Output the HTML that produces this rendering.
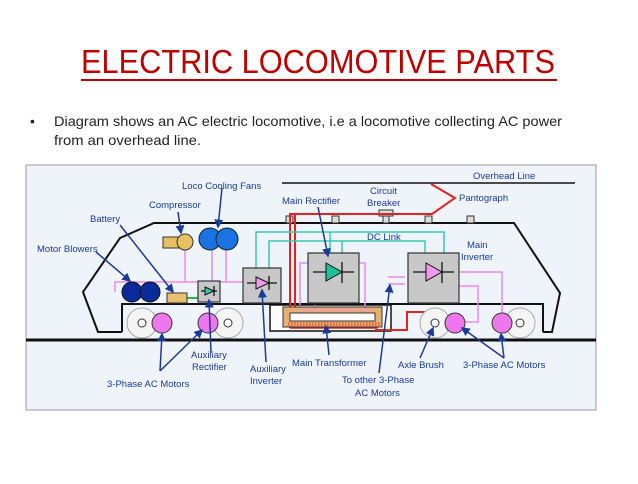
<!DOCTYPE html>
<html><head><meta charset="utf-8"><style>
body{margin:0;background:#fff;width:638px;height:479px;overflow:hidden;font-family:"Liberation Sans",sans-serif}
</style></head><body>
<svg width="638" height="479" viewBox="0 0 638 479" xmlns="http://www.w3.org/2000/svg" font-family="Liberation Sans, sans-serif">
<text x="318" y="73" text-anchor="middle" font-size="33" fill="#c00000" textLength="474" lengthAdjust="spacingAndGlyphs">ELECTRIC LOCOMOTIVE PARTS</text>
<rect x="81" y="79" width="476" height="2" fill="#c00000"/>
<text x="30" y="126" font-size="14" fill="#222">•</text>
<text x="54" y="126" font-size="14" fill="#222" textLength="508" lengthAdjust="spacingAndGlyphs">Diagram shows an AC electric locomotive, i.e a locomotive collecting AC power</text>
<text x="54" y="145" font-size="14" fill="#222" textLength="147" lengthAdjust="spacingAndGlyphs">from an overhead line.</text>

<rect x="26" y="165" width="570" height="245" fill="#eef4fa" stroke="#999" stroke-width="1"/>
<!-- overhead line -->
<line x1="282" y1="183" x2="575" y2="183" stroke="#111" stroke-width="1.5"/>
<!-- body -->
<polyline points="122,332 98,332 83,292 120,238 154,223 514,223 560,293 552,332 543,332" fill="none" stroke="#111" stroke-width="2"/>
<path d="M122,332 V304 H543 V332" fill="none" stroke="#111" stroke-width="2"/>
<rect x="270" y="305" width="121" height="26" fill="#fff" stroke="#111" stroke-width="1.5"/>
<line x1="26" y1="340" x2="596" y2="340" stroke="#111" stroke-width="3"/>
<!-- insulators -->
<g fill="#ddd" stroke="#333" stroke-width="1"><rect x="286" y="216" width="7" height="7"/><rect x="332" y="216" width="7" height="7"/><rect x="425" y="216" width="7" height="7"/><rect x="467" y="216" width="7" height="7"/><rect x="379" y="210" width="14" height="6"/><rect x="383" y="216" width="6" height="7"/></g>
<!-- red power -->
<g fill="none" stroke="#e52222" stroke-width="2">
<polyline points="431,184 455,198 432,214 290,214 290,328"/>
<polyline points="295,214 295,328"/>
<polyline points="375,330 407,330 407,312 437,312 437,321"/>
</g>
<g stroke="#e52222" stroke-width="1.5"><line x1="290" y1="328" x2="378" y2="328"/></g>
<!-- teal dc link -->
<g fill="none" stroke="#33ccb0" stroke-width="1.5">
<polyline points="256,268 256,232 444,232 444,253"/>
<polyline points="269,268 269,241 425,241 425,253"/>
<line x1="330" y1="232" x2="330" y2="253"/><line x1="342" y1="241" x2="342" y2="253"/>
</g>
<!-- pink aux lines -->
<g fill="none" stroke="#ee88ee" stroke-width="1.5">
<polyline points="115,292 115,282 243,282"/><line x1="127" y1="282" x2="127" y2="290"/><line x1="145" y1="282" x2="145" y2="290"/>
<line x1="185" y1="250" x2="185" y2="282"/><line x1="212" y1="250" x2="212" y2="282"/><line x1="226" y1="250" x2="226" y2="282"/><line x1="209" y1="282" x2="209" y2="288"/>
<polyline points="300,305 300,263 308,263"/><polyline points="359,263 365,263 365,310"/>
<line x1="315" y1="305" x2="315" y2="322"/>
<line x1="388" y1="277" x2="405" y2="277"/><line x1="388" y1="284" x2="405" y2="284"/>
<polyline points="459,272 502,272 502,315"/><polyline points="459,286 478,286 478,322 462,322"/>
</g>
<g stroke="#ee88ee" stroke-width="1"><line x1="300" y1="310" x2="372" y2="310"/></g>
<line x1="187" y1="298" x2="198" y2="298" stroke="#22bb44" stroke-width="2"/>
<!-- transformer -->
<rect x="283" y="307" width="99" height="20" fill="#e8b070" stroke="#333" stroke-width="1"/>
<rect x="290" y="313" width="85" height="8" fill="#fff" stroke="#333" stroke-width="1"/>
<g stroke="#e52222" stroke-width="1" stroke-dasharray="1.5,1.5"><line x1="288" y1="323" x2="380" y2="323"/><line x1="288" y1="325" x2="380" y2="325"/></g>
<g stroke="#ee88ee" stroke-width="1" stroke-dasharray="1.5,1.5"><line x1="300" y1="309" x2="372" y2="309"/><line x1="300" y1="311.5" x2="372" y2="311.5"/></g>
<!-- boxes -->
<g fill="#c8c8c8" stroke="#333" stroke-width="1.2">
<rect x="198" y="281" width="22" height="21"/><rect x="243" y="268" width="38" height="35"/>
<rect x="308" y="253" width="51" height="50"/><rect x="408" y="253" width="51" height="50"/></g>
<g stroke="#111" stroke-width="1.3"><line x1="201" y1="291" x2="217" y2="291"/><line x1="247" y1="283" x2="277" y2="283"/><line x1="313" y1="272" x2="354" y2="272"/><line x1="413" y1="272" x2="454" y2="272"/>
<line x1="214" y1="286" x2="214" y2="296"/><line x1="269" y1="276" x2="269" y2="290"/><line x1="342" y1="262" x2="342" y2="283"/><line x1="442" y1="262" x2="442" y2="283"/></g>
<polygon points="205,287 214,291 205,295" fill="#33ccb0" stroke="#111"/>
<polygon points="256,277 269,283 256,289" fill="#ee99ee" stroke="#111"/>
<polygon points="326,263 342,272 326,281" fill="#1fbf9a" stroke="#111"/>
<polygon points="426,263 442,272 426,281" fill="#ee99ee" stroke="#111"/>
<!-- components -->
<rect x="167" y="293" width="20" height="10" fill="#e8c070" stroke="#333"/>
<rect x="163" y="237" width="18" height="11" fill="#e8c060" stroke="#333"/>
<circle cx="185" cy="242" r="8" fill="#e8c060" stroke="#333"/>
<circle cx="210" cy="239" r="11" fill="#1a73e0" stroke="#123"/><circle cx="227" cy="239" r="11" fill="#1a73e0" stroke="#123"/>
<circle cx="132" cy="292" r="10" fill="#0a2a99" stroke="#012"/><circle cx="150" cy="292" r="10" fill="#0a2a99" stroke="#012"/>
<!-- wheels -->
<g fill="#f4f4f4" stroke="#aaa" stroke-width="1"><circle cx="142" cy="323" r="15"/><circle cx="228" cy="323" r="15"/><circle cx="435" cy="323" r="15"/><circle cx="520" cy="323" r="15"/></g>
<g fill="#fff" stroke="#333"><circle cx="142" cy="323" r="4"/><circle cx="228" cy="323" r="4"/><circle cx="435" cy="323" r="4"/><circle cx="520" cy="323" r="4"/></g>
<g fill="#ee77ee" stroke="#333"><circle cx="162" cy="323" r="10"/><circle cx="208" cy="323" r="10"/><circle cx="455" cy="323" r="10"/><circle cx="502" cy="323" r="10"/></g>
<!-- leader arrows -->
<defs><marker id="a" markerWidth="6" markerHeight="6" refX="5" refY="3" orient="auto"><path d="M0,0 L6,3 L0,6z" fill="#1a3a9a"/></marker></defs>
<g stroke="#1a3a9a" stroke-width="1.5" fill="none" marker-end="url(#a)">
<line x1="96" y1="252" x2="130" y2="281"/><line x1="120" y1="225" x2="173" y2="292"/>
<line x1="178" y1="212" x2="181" y2="233"/><line x1="222" y1="188" x2="218" y2="227"/>
<line x1="160" y1="371" x2="162" y2="334"/><line x1="160" y1="371" x2="202" y2="330"/>
<line x1="211" y1="353" x2="209" y2="300"/><line x1="266" y1="362" x2="262" y2="290"/>
<line x1="318" y1="207" x2="328" y2="256"/><line x1="329" y1="355" x2="326" y2="326"/>
<line x1="379" y1="373" x2="390" y2="285"/><line x1="420" y1="358" x2="433" y2="328"/>
<line x1="504" y1="358" x2="462" y2="328"/><line x1="504" y1="358" x2="501" y2="334"/>
</g>
<g font-size="9.5" fill="#1a3a9a">
<text x="473" y="179">Overhead Line</text>
<text x="182" y="189">Loco Cooling Fans</text>
<text x="149" y="208">Compressor</text>
<text x="90" y="222">Battery</text>
<text x="37" y="252">Motor Blowers</text>
<text x="282" y="204">Main Rectifier</text>
<text x="370" y="194">Circuit</text><text x="367" y="206">Breaker</text>
<text x="459" y="201">Pantograph</text>
<text x="367" y="240">DC Link</text>
<text x="467" y="248">Main</text><text x="461" y="260">Inverter</text>
<text x="191" y="358">Auxiliary</text><text x="192" y="370">Rectifier</text>
<text x="250" y="372">Auxiliary</text><text x="250" y="384">Inverter</text>
<text x="292" y="366">Main Transformer</text>
<text x="342" y="383">To other 3-Phase</text><text x="355" y="396">AC Motors</text>
<text x="398" y="368">Axle Brush</text>
<text x="463" y="368">3-Phase AC Motors</text>
<text x="107" y="387">3-Phase AC Motors</text>
</g>
</svg>
</body></html>
